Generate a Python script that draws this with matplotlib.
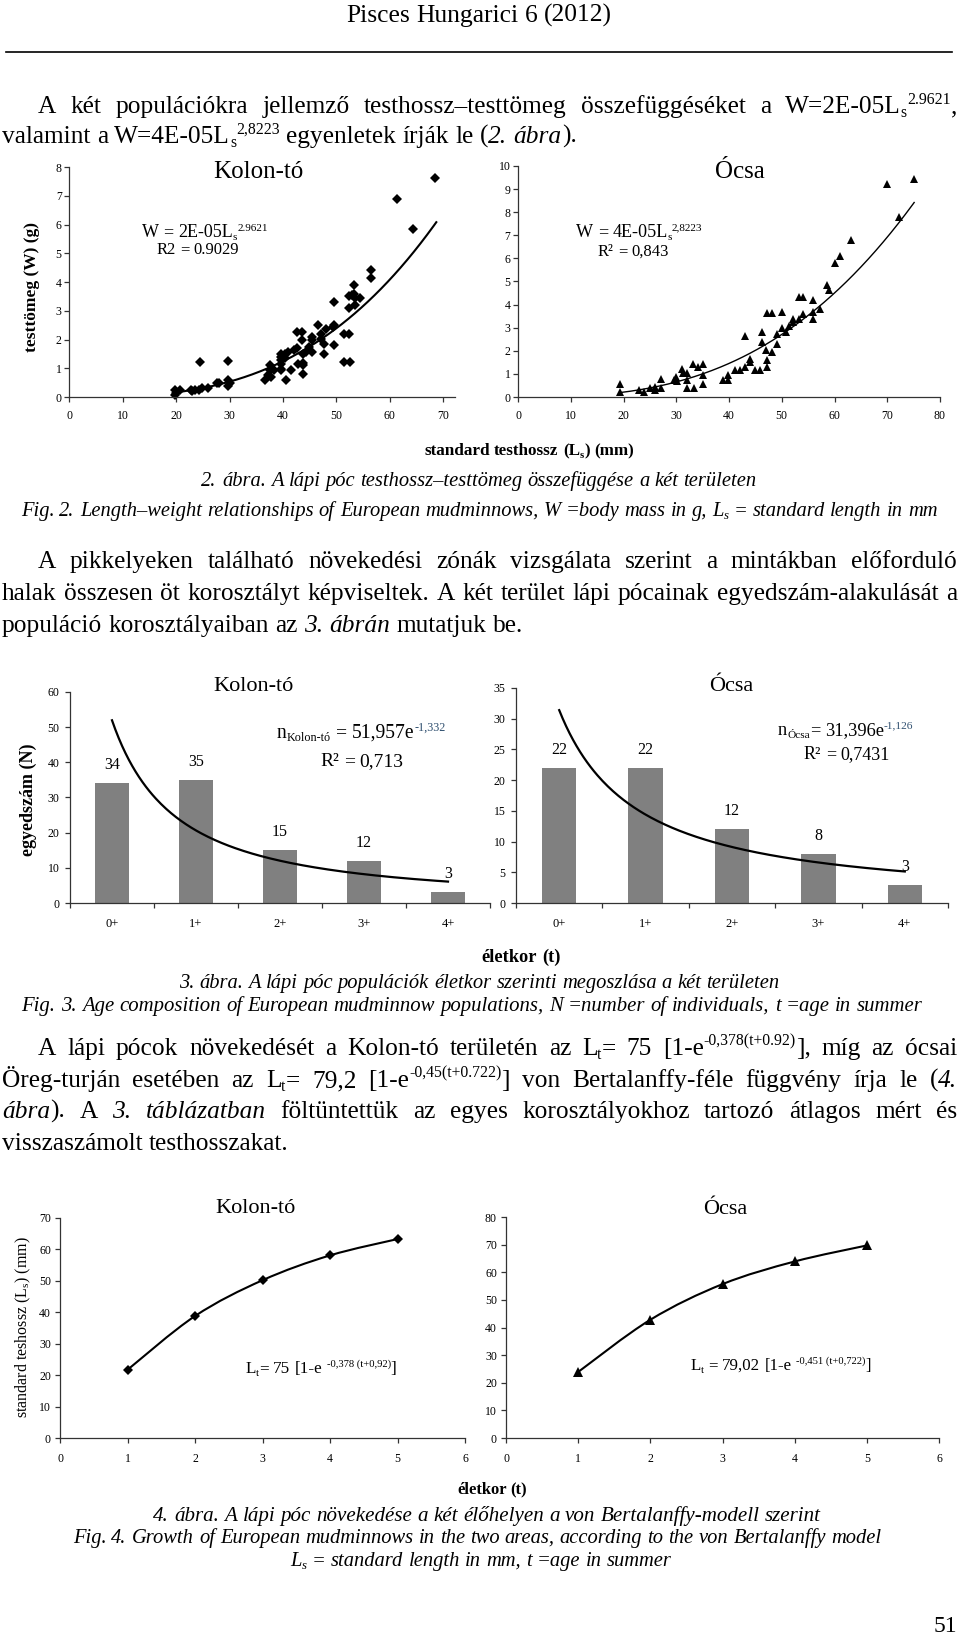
import numpy as np
import matplotlib
matplotlib.use('Agg')
import matplotlib.pyplot as plt
from matplotlib.lines import Line2D
from matplotlib.path import Path
from matplotlib.patches import PathPatch

plt.rcParams['font.family'] = ['Liberation Serif', 'DejaVu Serif']
plt.rcParams['mathtext.fontset'] = 'custom'
plt.rcParams['mathtext.rm'] = 'Liberation Serif'

# --- 2. ábra: testhossz (mm) - testtömeg (g) ---
kolon_L = [19.7, 19.7, 20.0, 20.8, 22.7, 23.0, 23.6, 24.5, 24.2, 24.8, 26.0, 27.7, 28.0,
           29.8, 29.8, 29.8, 30.0, 36.6, 37.2, 37.5, 37.5, 37.8, 38.4, 39.6, 39.6, 39.6,
           39.6, 39.6, 39.6, 40.3, 40.3, 40.6, 40.9, 41.5, 42.0, 42.6, 42.6, 42.9, 43.5,
           43.5, 43.8, 43.8, 43.8, 43.8, 44.3, 44.9, 45.5, 45.5, 45.5, 46.5, 47.1, 47.1,
           47.7, 47.7, 48.0, 49.3, 49.6, 49.6, 49.6, 51.4, 52.3, 51.4, 52.6, 52.3, 52.3,
           52.9, 53.2, 53.2, 53.5, 53.5, 54.5, 56.4, 56.4, 61.3, 64.4, 68.4]
kolon_W = [0.23, 0.06, 0.15, 0.23, 0.25, 0.20, 0.25, 1.22, 0.25, 0.33, 0.33, 0.47, 0.50,
           1.25, 0.58, 0.40, 0.50, 0.60, 0.75, 0.93, 1.10, 0.70, 0.93, 1.50, 1.40, 1.28,
           1.16, 0.99, 0.93, 1.50, 1.34, 0.60, 1.57, 0.93, 1.63, 1.69, 2.27, 1.16, 2.27,
           1.98, 1.50, 1.20, 1.10, 0.79, 1.57, 1.74, 2.10, 1.98, 1.57, 2.50, 2.20, 2.03,
           1.86, 1.50, 2.38, 2.44, 2.50, 3.31, 1.80, 2.20, 2.20, 1.22, 1.22, 3.08, 3.51,
           3.55, 3.90, 3.60, 3.20, 3.43, 3.43, 4.42, 4.13, 6.90, 5.85, 7.62]
ocsa_L = [19.4, 19.4, 23.0, 23.9, 25.1, 26.0, 26.0, 27.1, 27.1, 29.5, 30.0, 30.1, 31.1,
          31.2, 32.0, 32.1, 32.1, 33.1, 33.3, 34.1, 35.0, 35.0, 35.0, 38.9, 39.9, 39.9,
          41.2, 42.1, 43.1, 43.1, 44.0, 44.0, 45.0, 45.9, 46.2, 46.2, 47.2, 47.0, 47.2,
          47.2, 48.1, 48.1, 49.1, 49.1, 50.0, 50.0, 50.9, 51.3, 52.2, 52.2, 53.2, 53.2,
          54.1, 54.1, 56.0, 56.0, 56.0, 57.3, 58.5, 59.0, 60.1, 61.0, 63.1, 70.0, 72.3, 75.1]
ocsa_W = [0.55, 0.22, 0.29, 0.22, 0.40, 0.32, 0.43, 0.79, 0.40, 0.72, 0.87, 0.69, 1.23,
          1.04, 1.04, 0.72, 0.40, 1.44, 0.40, 1.30, 1.44, 0.94, 0.58, 0.72, 0.94, 0.72,
          1.15, 1.15, 1.30, 2.63, 1.66, 1.52, 1.15, 1.15, 2.38, 2.81, 1.59, 2.02, 1.30,
          3.64, 1.95, 3.64, 2.74, 2.31, 3.68, 3.00, 2.81, 3.06, 3.25, 3.39, 3.39, 4.33,
          4.33, 3.61, 4.18, 3.68, 3.39, 3.82, 4.83, 4.62, 5.80, 6.10, 6.81, 9.24, 7.79, 9.45]

# --- 3. ábra: egyedszám korosztályonként ---
ages = ['0+', '1+', '2+', '3+', '4+']
kolon_n = [34, 35, 15, 12, 3]
ocsa_n = [22, 22, 12, 8, 3]

# --- 4. ábra: növekedés ---
t_age = [1, 2, 3, 4, 5]
kolon_Lt = [21.7, 38.8, 50.2, 58.1, 63.3]
ocsa_Lt = [23.9, 42.8, 55.7, 63.9, 69.7]

W, H = 960, 1644
PX = 100 / 72
fig = plt.figure(figsize=(W / 100, H / 100), dpi=100)
rend = fig.canvas.get_renderer()


# egyszerű "rich text": |dőlt|, ^{felső index}, _{alsó index}
def parse(s):
    runs, buf, ital, i = [], '', False, 0
    while i < len(s):
        c = s[i]
        if c == '|':
            if buf:
                runs.append((buf, ital, 0))
                buf = ''
            ital = not ital
            i += 1
        elif c in '^_' and s[i + 1:i + 2] == '{':
            if buf:
                runs.append((buf, ital, 0))
                buf = ''
            j = s.index('}', i)
            runs.append((s[i + 2:j], ital, 1 if c == '^' else -1))
            i = j + 1
        else:
            buf += c
            i += 1
    if buf:
        runs.append((buf, ital, 0))
    words = [[]]
    for text, it, pos in runs:
        for k, part in enumerate(text.split(' ')):
            if k:
                words.append([])
            if part:
                words[-1].append((part, it, pos))
    return [w for w in words if w]


def build(s, size, weight='normal', color='k', sup_color=None):
    words = []
    for word in parse(s):
        items = []
        for text, it, pos in word:
            col = sup_color if (pos == 1 and sup_color) else color
            t = fig.text(0, 0, text, fontsize=size * (0.62 if pos else 1.0),
                         style='italic' if it else 'normal', weight=weight,
                         va='baseline', ha='left', color=col)
            items.append([t, t.get_window_extent(rend).width, pos])
        words.append(items)
    a = fig.text(0, 0, 'n n', fontsize=size, weight=weight)
    b = fig.text(0, 0, 'nn', fontsize=size, weight=weight)
    space = a.get_window_extent(rend).width - b.get_window_extent(rend).width
    a.remove()
    b.remove()
    widths = [sum(it[1] for it in w) for w in words]
    return words, widths, space


def rich(x, y, s, size, align='left', x1=None, fit=None, **kw):
    words, widths, space = build(s, size, **kw)
    if fit:
        natural = sum(widths) + space * (len(words) - 1)
        for w in words:
            for it in w:
                it[0].remove()
        size = size * fit / natural
        words, widths, space = build(s, size, **kw)
    total = sum(widths) + space * (len(words) - 1)
    gap = space
    start = x
    if align == 'justify' and len(words) > 1:
        gap = (x1 - x - sum(widths)) / (len(words) - 1)
    elif align == 'center':
        start = x - total / 2
    elif align == 'right':
        start = x - total
    cx = start
    for w, wd in zip(words, widths):
        for t, tw, pos in w:
            dy = {1: 0.36, -1: -0.15, 0: 0.0}[pos] * size * PX
            t.set_position((cx / W, 1 - (y - dy) / H))
            cx += tw
        cx += gap
    return size


def vtext(x, y, s, size, weight='normal'):
    fig.text(x / W, 1 - y / H, s, fontsize=size, weight=weight, rotation=90,
             ha='center', va='center')


def add_axes(x0, x1, y0, y1):
    return fig.add_axes([x0 / W, 1 - y1 / H, (x1 - x0) / W, (y1 - y0) / H])


def style(ax, xpad, ypad, fs=8.5):
    ax.patch.set_alpha(0)
    for s in ('top', 'right'):
        ax.spines[s].set_visible(False)
    for s in ('left', 'bottom'):
        ax.spines[s].set_color('#333333')
        ax.spines[s].set_linewidth(0.9)
    ax.tick_params(direction='out', length=3.5, width=0.9, color='#333333', labelsize=fs)
    ax.tick_params(axis='x', pad=xpad)
    ax.tick_params(axis='y', pad=ypad)


def smooth_path(xs, ys):
    p = np.column_stack([xs, ys]).astype(float)
    ext = np.vstack([p[0], p, p[-1]])
    verts, codes = [p[0]], [Path.MOVETO]
    for i in range(len(p) - 1):
        p0, p1, p2, p3 = ext[i], ext[i + 1], ext[i + 2], ext[i + 3]
        verts += [p1 + (p2 - p0) / 6, p2 - (p3 - p1) / 6, p2]
        codes += [Path.CURVE4] * 3
    return Path(verts, codes)


# ---------------- page text ----------------
rich(479, 22, 'Pisces Hungarici 6 (2012)', 16, align='center', fit=266)
fig.add_artist(Line2D([6 / W, 952 / W], [1 - 52 / H] * 2, lw=1.2, color='k'))

probe = 'halak összesen öt korosztályt képviseltek. A két terület lápi pócainak egyedszám-alakulását a'
pw, pwidths, psp = build(probe, 16)
for w in pw:
    for it in w:
        it[0].remove()
BODY = 16 * 945 / (sum(pwidths) + psp * (len(pwidths) - 1))

L0, L1, R = 38, 2, 957
rich(L0, 113, 'A két populációkra jellemző testhossz–testtömeg összefüggéséket a W=2E-05L_{s}^{2.9621},',
     BODY, align='justify', x1=R)
rich(L1, 143, 'valamint a W=4E-05L_{s}^{2,8223} egyenletek írják le (|2. ábra|).', BODY)

rich(L0, 568, 'A pikkelyeken található növekedési zónák vizsgálata szerint a mintákban előforduló',
     BODY, align='justify', x1=R)
rich(L1, 600, probe, BODY, align='justify', x1=R)
rich(L1, 632, 'populáció korosztályaiban az |3. ábrán| mutatjuk be.', BODY)

rich(L0, 1055, 'A lápi pócok növekedését a Kolon-tó területén az L_{t}= 75 [1-e^{-0,378(t+0.92)}], míg az ócsai',
     BODY, align='justify', x1=R)
rich(L1, 1087, 'Öreg-turján esetében az L_{t}= 79,2 [1-e^{-0,45(t+0.722)}] von Bertalanffy-féle függvény írja le (|4.|',
     BODY, align='justify', x1=R)
rich(L1, 1118, '|ábra|). A |3. táblázatban| föltüntettük az egyes korosztályokhoz tartozó átlagos mért és',
     BODY, align='justify', x1=R)
rich(L1, 1150, 'visszaszámolt testhosszakat.', BODY)

rich(479, 486, '|2. ábra. A lápi póc testhossz–testtömeg összefüggése a két területen|', 14,
     align='center', fit=555)
rich(479, 516, '|Fig. 2. Length–weight relationships of European mudminnows, W =body mass in g, L_{s} = standard length in mm|',
     14, align='center', fit=921)
rich(479, 988, '|3. ábra. A lápi póc populációk életkor szerinti megoszlása a két területen|', 14,
     align='center', fit=600)
rich(472, 1011, '|Fig. 3. Age composition of European mudminnow populations, N =number of individuals, t =age in summer|',
     14, align='center', fit=902)
rich(487, 1521, '|4. ábra. A lápi póc növekedése a két élőhelyen a von Bertalanffy-modell szerint|', 14,
     align='center', fit=668)
rich(477, 1543, '|Fig. 4. Growth of European mudminnows in the two areas, according to the von Bertalanffy model|',
     14, align='center', fit=809)
rich(481, 1566, '|L_{s} = standard length in mm, t =age in summer|', 14, align='center', fit=381)
rich(957, 1632, '51', 17, align='right')

# ---------------- 2. ábra ----------------
ax = add_axes(69.3, 455, 167, 397)
ax.plot(kolon_L, kolon_W, 'D', color='k', ms=4.6, mew=0, clip_on=False)
b, lna = np.polyfit(np.log(kolon_L), np.log(kolon_W), 1)
xs = np.linspace(min(kolon_L), max(kolon_L) + 0.3, 200)
ax.plot(xs, np.exp(lna) * xs ** b, 'k-', lw=1.5, clip_on=False)
ax.set_xlim(0, 72.2)
ax.set_ylim(0, 8)
ax.set_xticks(range(0, 71, 10))
ax.set_yticks(range(0, 9))
style(ax, 6, 2)

ax = add_axes(518, 940, 166, 397)
ax.plot(ocsa_L, ocsa_W, '^', color='k', ms=5.8, mew=0, clip_on=False)
b, lna = np.polyfit(np.log(ocsa_L), np.log(ocsa_W), 1)
xs = np.linspace(min(ocsa_L), max(ocsa_L), 200)
ax.plot(xs, np.exp(lna) * xs ** b, 'k-', lw=1.0, clip_on=False)
ax.set_xlim(0, 80)
ax.set_ylim(0, 10)
ax.set_xticks(range(0, 81, 10))
ax.set_yticks(range(0, 11))
style(ax, 6, 2)

rich(258, 178, 'Kolon-tó', 18, align='center')
rich(740, 178, 'Ócsa', 18, align='center')
rich(142, 237, 'W = 2E-05L_{s}^{2.9621}', 12, fit=126)
rich(157, 254, 'R2 = 0.9029', 12)
rich(576, 237, 'W = 4E-05L_{s}^{2,8223}', 12, fit=127)
rich(598, 256, 'R² = 0,843', 12)
vtext(32, 287, 'testtömeg (W) (g)', 12.5, weight='bold')
rich(529, 455, 'standard testhossz (L_{s}) (mm)', 12, align='center', weight='bold', fit=209)

# ---------------- 3. ábra ----------------
for x0, x1, ytop, counts, ymax, ystep, xmax in [
        (70, 490, 692, kolon_n, 60, 10, 4.22),
        (516, 948, 688, ocsa_n, 35, 5, 4.5)]:
    ax = add_axes(x0, x1, ytop, 903)
    pos = np.arange(len(ages))
    ax.bar(pos, counts, width=0.4, color='#808080')
    for p, v in zip(pos, counts):
        ax.annotate(str(v), (p, v), xytext=(0, 13), textcoords='offset points',
                    ha='center', va='center', fontsize=11.5)
    age_x = np.arange(1, len(ages) + 1)
    b, lna = np.polyfit(np.log(age_x), np.log(counts), 1)
    xs = np.linspace(1, len(ages), 200)
    ax.plot(xs - 1, np.exp(lna) * xs ** b, 'k-', lw=1.6, clip_on=False)
    ax.set_xlim(-0.5, xmax)
    ax.set_ylim(0, ymax)
    ax.set_yticks(range(0, ymax + 1, ystep))
    ax.set_xticks(np.arange(-0.5, len(ages), 1.0))
    ax.set_xticklabels([])
    ax.set_xticks(pos, minor=True)
    ax.set_xticklabels(ages, minor=True)
    style(ax, 9, 4)
    ax.tick_params(axis='x', which='minor', length=0, pad=11, labelsize=9)

rich(254, 691, 'Kolon-tó', 16, align='center')
rich(731, 691, 'Ócsa', 16, align='center')
rich(277, 738, 'n_{Kolon-tó} = 51,957e^{-1,332}', 14, fit=168, sup_color='#2f4f6f')
rich(320, 766, 'R² = 0,713', 14)
rich(778, 735, 'n_{Ócsa}= 31,396e^{-1,126}', 13, fit=135, sup_color='#2f4f6f')
rich(804, 759, 'R² = 0,7431', 13)
vtext(28, 800, 'egyedszám (N)', 13, weight='bold')
rich(521, 962, 'életkor (t)', 12, align='center', weight='bold', fit=78)

# ---------------- 4. ábra ----------------
for x0, x1, ytop, lengths, marker, ms, ymax in [
        (60, 465, 1218, kolon_Lt, 'D', 5.5, 70),
        (506, 939, 1217, ocsa_Lt, '^', 7.5, 80)]:
    ax = add_axes(x0, x1, ytop, 1438)
    ax.add_patch(PathPatch(smooth_path(t_age, lengths), fill=False, lw=1.5, ec='k'))
    ax.plot(t_age, lengths, marker, color='k', ms=ms, mew=0, ls='none')
    ax.set_xlim(0, 6)
    ax.set_ylim(0, ymax)
    ax.set_xticks(range(0, 7))
    ax.set_yticks(range(0, ymax + 1, 10))
    style(ax, 7, 3)

rich(255, 1213, 'Kolon-tó', 16, align='center')
rich(725, 1214, 'Ócsa', 16, align='center')
rich(246, 1373, 'L_{t}= 75 [1-e ^{-0,378\u00a0(t+0,92)}]', 12, fit=151)
rich(691, 1370, 'L_{t} = 79,02 [1-e ^{-0,451\u00a0(t+0,722)}]', 12, fit=179)
vtext(23, 1327, 'standard teshossz (L$_\\mathregular{s}$) (mm)', 11.5)
rich(492, 1494, 'életkor (t)', 12, align='center', weight='bold', fit=70)

fig.savefig('out.png', dpi=100)
